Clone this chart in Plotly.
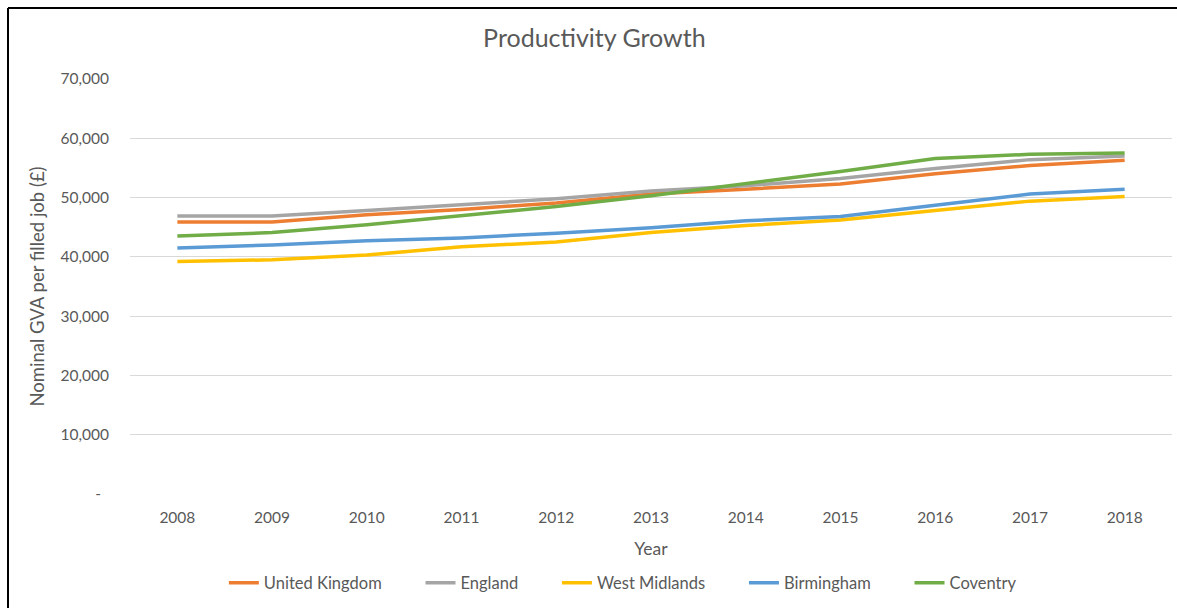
import plotly.graph_objects as go

years = ["2008", "2009", "2010", "2011", "2012", "2013", "2014", "2015", "2016", "2017", "2018"]
united_kingdom = [45900, 45900, 47100, 48000, 49100, 50600, 51400, 52300, 54000, 55400, 56300]
england = [46900, 46900, 47800, 48800, 49800, 51100, 52000, 53200, 54900, 56400, 57000]
west_midlands = [39200, 39500, 40300, 41700, 42500, 44100, 45300, 46200, 47800, 49400, 50200]
birmingham = [41500, 42000, 42700, 43200, 44000, 44900, 46100, 46800, 48700, 50600, 51400]
coventry = [43500, 44100, 45400, 46900, 48500, 50300, 52300, 54400, 56600, 57300, 57500]

series_names = ["United Kingdom", "England", "West Midlands", "Birmingham", "Coventry"]
series_values = [united_kingdom, england, west_midlands, birmingham, coventry]
colors = ["#ED7D31", "#A5A5A5", "#FFC000", "#5B9BD5", "#70AD47"]

y_tickvals = [0, 10000, 20000, 30000, 40000, 50000, 60000, 70000]
y_ticktext = ["-\u00a0\u00a0", "10,000", "20,000", "30,000", "40,000", "50,000", "60,000", "70,000"]

FONT = "Lato"
GREY = "#595959"
PAD = "\u00a0" * 8

fig = go.Figure()
for i, (name, vals, col) in enumerate(zip(series_names, series_values, colors)):
    label = name if i == len(series_names) - 1 else name + PAD
    fig.add_trace(go.Scatter(
        x=years, y=vals, name=label, mode="lines",
        line=dict(color=col, width=3.5),
    ))

fig.update_layout(
    width=1177, height=608,
    paper_bgcolor="white", plot_bgcolor="white",
    margin=dict(l=130, r=5, t=79, b=114),
    font=dict(family=FONT, color=GREY, size=15),
    title=dict(text="Productivity Growth", x=0.505, xanchor="center",
               y=1 - 38 / 608, yanchor="middle", yref="container",
               font=dict(size=25, color=GREY, family=FONT)),
    showlegend=True,
    legend=dict(orientation="h", x=0.473, xanchor="center", y=-0.2145, yanchor="middle",
                font=dict(size=16.5, color=GREY, family=FONT),
                itemwidth=30, tracegroupgap=0, bgcolor="rgba(0,0,0,0)"),
    xaxis=dict(
        type="category", range=[-0.5, 10.5],
        showgrid=False, showline=False, zeroline=False,
        ticks="", tickfont=dict(size=15.5, color=GREY, family=FONT),
        ticklabelstandoff=12,
        title=dict(text="Year", font=dict(size=17.5, color=GREY, family=FONT), standoff=18),
    ),
    yaxis=dict(
        range=[0, 70000], tickvals=y_tickvals, ticktext=y_ticktext,
        showgrid=True, gridcolor="#D9D9D9", gridwidth=1,
        zeroline=False, showline=False, ticks="",
        tickfont=dict(size=15.5, color=GREY, family=FONT),
        ticklabelstandoff=20,
        title=dict(text="Nominal GVA per filled job (£)", font=dict(size=18.5, color=GREY, family=FONT), standoff=11),
    ),
    shapes=[
        dict(type="line", xref="paper", yref="paper",
             x0=(8 - 130) / 1042, x1=(1177 - 130) / 1042,
             y0=(494 - 8) / 415, y1=(494 - 8) / 415,
             line=dict(color="#000000", width=2)),
        dict(type="line", xref="paper", yref="paper",
             x0=(8 - 130) / 1042, x1=(8 - 130) / 1042,
             y0=(494 - 8) / 415, y1=(494 - 610) / 415,
             line=dict(color="#000000", width=2)),
    ],
)

fig.write_html("out.html")
